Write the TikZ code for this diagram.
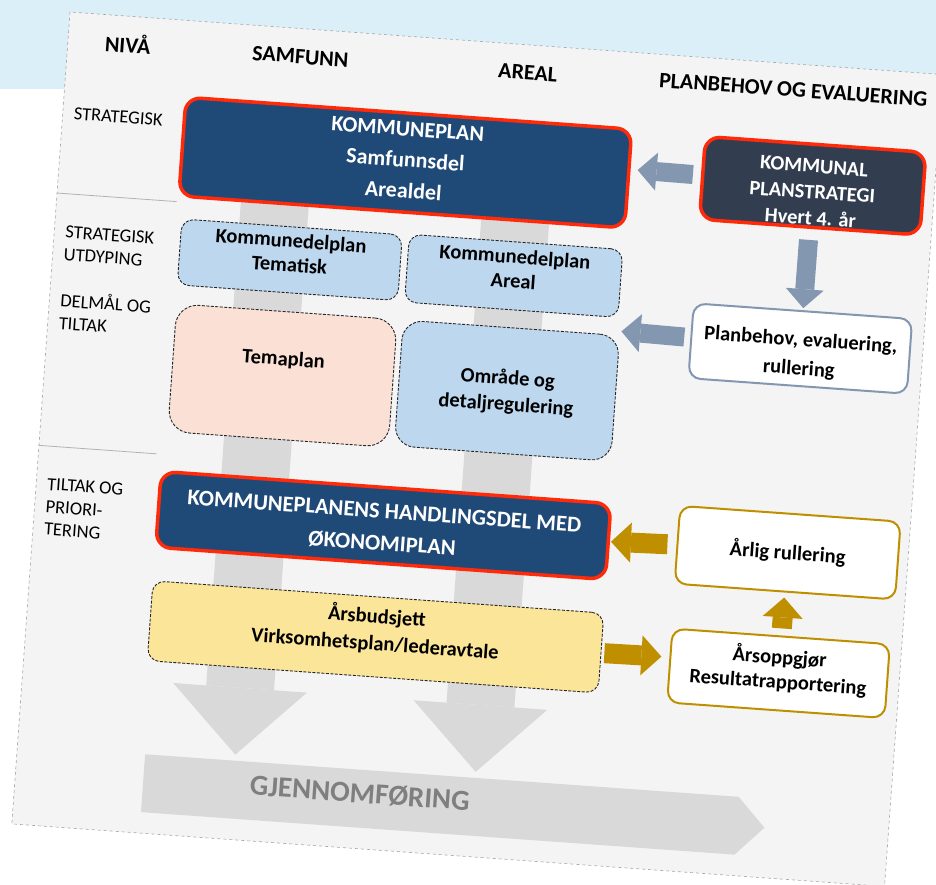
\documentclass[tikz,border=0pt]{standalone}
\usepackage{fontspec}
\setmainfont{Carlito}
\usetikzlibrary{arrows.meta,calc}

\definecolor{bgband}{HTML}{DAEFF8}
\definecolor{panelgray}{HTML}{F4F4F4}
\definecolor{navy}{HTML}{1F4A78}
\definecolor{slatebox}{HTML}{323E50}
\definecolor{planred}{HTML}{FF2A0A}
\definecolor{paleblue}{HTML}{BDD7EE}
\definecolor{peach}{HTML}{FAE0D5}
\definecolor{paleyellow}{HTML}{FBE599}
\definecolor{steel}{HTML}{8497B0}
\definecolor{gold}{HTML}{BF8F00}
\definecolor{flowgray}{HTML}{D9D9D9}
\definecolor{textgray}{HTML}{7F7F7F}

\begin{document}
\begin{tikzpicture}[x=1pt, y=-1pt,
    mainbox/.style={draw=planred, line width=3.5pt, fill=navy, rounded corners=15pt,
      text=white, font=\bfseries\fontsize{22}{31}\selectfont, align=center,
      anchor=north west, inner sep=0pt},
    dashbox/.style={draw=black!85, line width=0.9pt, dash pattern=on 3pt off 1.5pt,
      fill=paleblue, rounded corners=12pt, font=\bfseries\fontsize{20.5}{24.5}\selectfont,
      align=center, anchor=north west, inner sep=0pt},
    whitebox/.style={draw=gold, line width=2pt, fill=white, rounded corners=12pt,
      font=\bfseries\fontsize{20.5}{24.5}\selectfont, align=center,
      anchor=north west, inner sep=0pt},
    header/.style={font=\bfseries\fontsize{22}{26}\selectfont, inner sep=0pt},
    levellabel/.style={font=\fontsize{18.5}{22.5}\selectfont, align=left, anchor=west, inner sep=0pt},
    sepline/.style={draw=gray!60, line width=0.8pt},
    flowarrow/.style={draw=flowgray, line width=68pt, -{Triangle[length=67pt,width=134pt,line width=0pt]}},
    steelarrow/.style={draw=steel, line width=19pt, -{Triangle[length=19pt,width=38pt,line width=0pt]}},
    goldarrow/.style={draw=gold, line width=20pt, -{Triangle[length=20pt,width=40pt,line width=0pt]}}]

  \useasboundingbox (0,0) rectangle (936,885);
  \clip (0,0) rectangle (936,885);
  \fill[white] (0,0) rectangle (936,885);
  \fill[bgband] (0,0) rectangle (936,89);

  \begin{scope}[shift={(70,12)}, rotate=-4.1, transform shape]
    % Panel
    \draw[fill=panelgray, draw=gray!70, line width=0.6pt, dashed] (0,0) rectangle (875,814);

    % Column headers
    \node[header] (hniva) at (60,27) {NIVÅ};
    \node[header] (hsamfunn) at (233,28) {SAMFUNN};
    \node[header] (hareal) at (461,28) {AREAL};
    \node[header] (hplanbehov) at (727,26) {PLANBEHOV OG EVALUERING};

    % Levels
    \node[levellabel] (lstrat) at (11,101) {STRATEGISK};
    \draw[sepline] (0,181.5) -- (120,181.5);
    \node[levellabel] (lutdyp) at (11,231) {STRATEGISK\\UTDYPING};
    \node[levellabel] (ldelmal) at (11,298) {DELMÅL OG\\TILTAK};
    \draw[sepline] (0,434.5) -- (118,434.5);
    \node[levellabel] (ltiltak) at (11,495) {TILTAK OG\\PRIORI-\\TERING};

    % Flow through the columns
    \coordinate (samtop) at (218,100);
    \coordinate (samtip) at (218,729);
    \coordinate (artop) at (459,100);
    \coordinate (artip) at (459,729);
    \draw[flowarrow] (samtop) -- (samtip);
    \draw[flowarrow] (artop) -- (artip);

    % Gjennomfoering
    \fill[flowgray] (128,735) -- (723,735) -- (751,764) -- (723,793) -- (128,793) -- cycle;
    \node[font=\bfseries\fontsize{29}{32}\selectfont, text=textgray] (gjennom) at (345,759) {GJENNOMFØRING};

    % Plans
    \node[mainbox, text height=76pt, text depth=5pt, minimum width=447pt, minimum height=99pt] (kplan) at (120,75)
      {KOMMUNEPLAN\\Samfunnsdel\\Arealdel};
    \node[mainbox, fill=slatebox, font=\bfseries\fontsize{20.5}{26}\selectfont, text height=78pt, text depth=0pt,
      minimum width=221pt, minimum height=83pt] (strat) at (641,77)
      {KOMMUNAL\\PLANSTRATEGI\\Hvert 4. år};
    \node[dashbox, text height=38.5pt, text depth=14pt, minimum width=221pt, minimum height=66pt] (tematisk) at (126,198)
      {Kommunedelplan\\Tematisk};
    \node[dashbox, text height=38.5pt, text depth=14pt, minimum width=214pt, minimum height=68pt] (kdpareal) at (354,197)
      {Kommunedelplan\\Areal};
    \node[dashbox, fill=peach, rounded corners=22pt, text height=14pt, text depth=34pt,
      minimum width=221pt, minimum height=128pt] (temaplan) at (127,283) {Temaplan};
    \node[dashbox, rounded corners=20pt, font=\bfseries\fontsize{20.5}{26.5}\selectfont,
      text height=40.5pt, text depth=0pt,
      minimum width=217pt, minimum height=126pt] (omrade) at (354,283)
      {Område og\\detaljregulering};
    \node[whitebox, draw=steel, font=\bfseries\fontsize{20.5}{29}\selectfont, text height=53pt, text depth=0pt,
      minimum width=219pt, minimum height=75pt] (planbehov) at (642,245)
      {Planbehov, evaluering,\\rullering};
    \node[mainbox, font=\bfseries\fontsize{22.5}{32}\selectfont, text height=50pt, text depth=0pt,
      minimum width=451pt, minimum height=76pt] (handling) at (122,450)
      {KOMMUNEPLANENS HANDLINGSDEL MED\\ØKONOMIPLAN};
    \node[dashbox, fill=paleyellow, font=\bfseries\fontsize{20.5}{27}\selectfont, text height=41pt, text depth=14pt,
      minimum width=452pt, minimum height=80pt] (budsjett) at (123,561)
      {Årsbudsjett\\Virksomhetsplan/lederavtale};
    \node[whitebox, text height=14pt, text depth=0pt, minimum width=221pt, minimum height=78pt] (aarlig) at (643,448)
      {Årlig rullering};
    \node[whitebox, text height=38.5pt, text depth=8pt, minimum width=218pt, minimum height=74pt] (aarsopp) at (644,571)
      {Årsoppgjør\\Resultatrapportering};

    % Connections
    \draw[steelarrow, shorten <=8pt, shorten >=7pt]
      ($(strat.north west)!0.47!(strat.south west)$) -- ($(kplan.north east)!0.41!(kplan.south east)$);
    \draw[steelarrow, shorten <=11pt, shorten >=2pt] (strat) -- (planbehov);
    \draw[steelarrow, shorten <=6pt, shorten >=1pt]
      ($(planbehov.north west)!0.46!(planbehov.south west)$) -- ($(omrade.north east)!-0.03!(omrade.south east)$);
    \draw[goldarrow, shorten <=9pt, shorten >=1pt] (aarlig.west) -- (handling.east);
    \draw[goldarrow, shorten <=3pt, shorten >=8pt]
      (budsjett.east) -- ($(aarsopp.north west)!0.39!(aarsopp.south west)$);
    \draw[goldarrow, shorten <=7pt, shorten >=5pt] (aarsopp) -- (aarlig);
  \end{scope}
\end{tikzpicture}
\end{document}
